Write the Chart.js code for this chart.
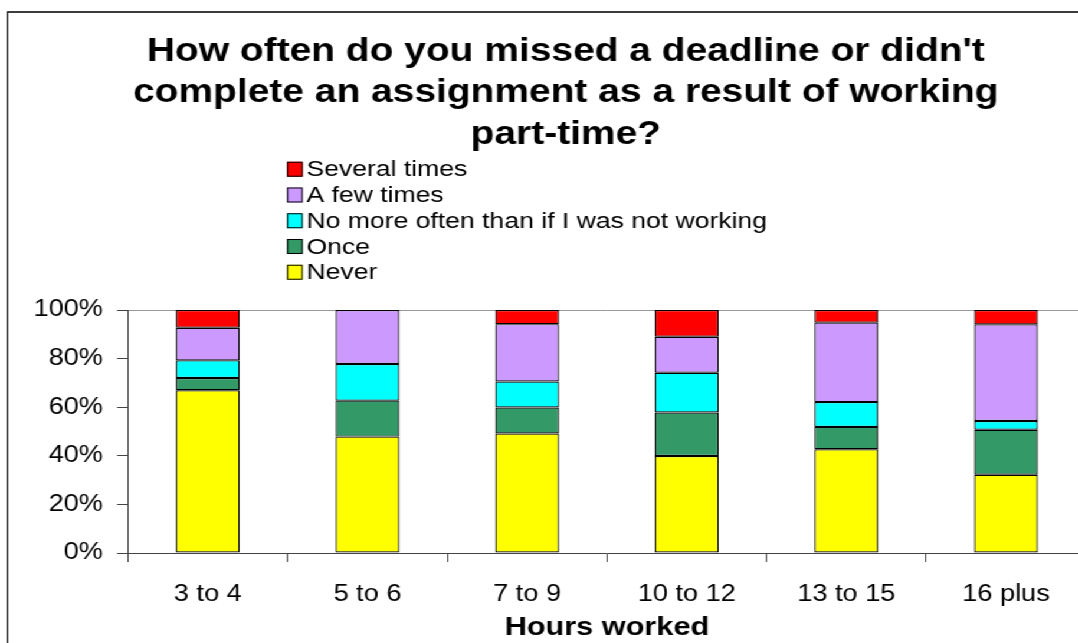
<!DOCTYPE html>
<html>
<head>
<meta charset="utf-8">
<script src="https://cdn.jsdelivr.net/npm/chart.js@4.4.1/dist/chart.umd.min.js"></script>
<style>
  html, body { margin: 0; padding: 0; background: #fff; overflow: hidden; width: 1078px; height: 643px; }
  #wrap { position: absolute; left: 0; top: 0; width: 940px; height: 643px; transform: scaleX(1.18); transform-origin: 0 0; }
  #frame { position: absolute; left: 5.7px; top: 11px; width: 1000px; height: 700px; border-left: 1.3px solid #000; border-top: 2px solid #3c3c3c; }
  canvas { position: absolute; left: 0; top: 0; }
</style>
</head>
<body>
<div id="wrap">
  <div id="frame"></div>
  <canvas id="chart" width="939" height="643"></canvas>
</div>
<script>
const FONT = "'Liberation Sans', Arial, sans-serif";

const categories = ["3 to 4", "5 to 6", "7 to 9", "10 to 12", "13 to 15", "16 plus"];
const seriesNames = ["Never", "Once", "No more often than if I was not working", "A few times", "Several times"];
const seriesColors = ["#FFFF00", "#339966", "#00FFFF", "#CC99FF", "#FF0000"];

// percent of respondents
const never = [67.0, 47.9, 49.2, 39.9, 42.7, 32.2];
const once = [5.0, 14.8, 10.7, 17.9, 9.2, 18.5];
const noMoreOften = [7.3, 15.1, 10.7, 16.4, 10.2, 3.6];
const fewTimes = [13.4, 22.2, 23.6, 14.8, 32.7, 39.8];
const severalTimes = [7.3, null, 5.8, 11.0, 5.2, 5.9];
const seriesValues = [never, once, noMoreOften, fewTimes, severalTimes];

const titleLines = [
  "How often do you missed a deadline or didn't",
  "complete an assignment as a result of working",
  "part-time?"
];

// legend drawn as a single left-aligned column between title and plot
const listLegend = {
  id: "listLegend",
  afterDraw(chart) {
    const ctx = chart.ctx;
    const area = chart.chartArea;
    const sets = chart.data.datasets.slice().reverse();
    const x = area.left + 134.7;
    let y = area.top - 140.8;
    ctx.save();
    ctx.font = "22.5px " + FONT;
    ctx.textBaseline = "middle";
    ctx.textAlign = "left";
    sets.forEach(function (ds) {
      ctx.fillStyle = ds.backgroundColor;
      ctx.fillRect(x, y - 7.5, 13.3, 15);
      ctx.strokeStyle = "#000";
      ctx.lineWidth = 1;
      ctx.strokeRect(x + 0.5, y - 7, 12.3, 14);
      ctx.fillStyle = "#000";
      ctx.fillText(ds.label, x + 16.6, y + 1);
      y += 25.75;
    });
    ctx.restore();
  }
};

const datasets = seriesNames.map(function (name, i) {
  return {
    label: name,
    data: seriesValues[i],
    backgroundColor: seriesColors[i],
    borderColor: "#000",
    borderWidth: 1.2,
    borderSkipped: false,
    barPercentage: 0.4,
    categoryPercentage: 1.0
  };
});

const ctx = document.getElementById("chart").getContext("2d");
new Chart(ctx, {
  type: "bar",
  data: { labels: categories, datasets: datasets },
  options: {
    responsive: false,
    animation: false,
    devicePixelRatio: 1,
    layout: { padding: { left: 20, right: 0, top: 0, bottom: 0 } },
    plugins: {
      legend: { display: false },
      tooltip: { enabled: false },
      title: {
        display: true,
        text: titleLines,
        color: "#000",
        font: { family: FONT, size: 33, weight: "bold", lineHeight: 1.26 },
        padding: { top: 31, bottom: 154.3 }
      }
    },
    scales: {
      x: {
        stacked: true,
        ticks: {
          color: "#000",
          font: { family: FONT, size: 23 },
          padding: 19,
          maxRotation: 0,
          autoSkip: false
        },
        grid: { color: "transparent", tickColor: "#444", tickLength: 9, offset: true },
        border: { color: "#444", width: 1 },
        title: {
          display: true,
          text: "Hours worked",
          color: "#000",
          font: { family: FONT, size: 26, weight: "bold", lineHeight: 1.2 },
          padding: { top: -15.8, bottom: 0 }
        }
      },
      y: {
        stacked: true,
        min: 0,
        max: 100,
        ticks: {
          stepSize: 20,
          color: "#000",
          font: { family: FONT, size: 23 },
          padding: 11.9,
          callback: (v) => v + "%"
        },
        grid: {
          color: (c) => (c.tick && c.tick.value === 100 ? "#9a9a9a" : "transparent"),
          tickColor: "#444",
          tickLength: 9.3
        },
        border: { color: "#444", width: 1 },
        afterFit: (scale) => { scale.width = 88.5; }
      },
      // empty right-hand spacer so the plot ends where the original's did
      spacer: {
        type: "linear",
        position: "right",
        grid: { display: false },
        ticks: { display: false },
        border: { display: false },
        afterFit: (scale) => { scale.width = 18.8; }
      }
    }
  },
  plugins: [listLegend]
});
</script>
</body>
</html>
